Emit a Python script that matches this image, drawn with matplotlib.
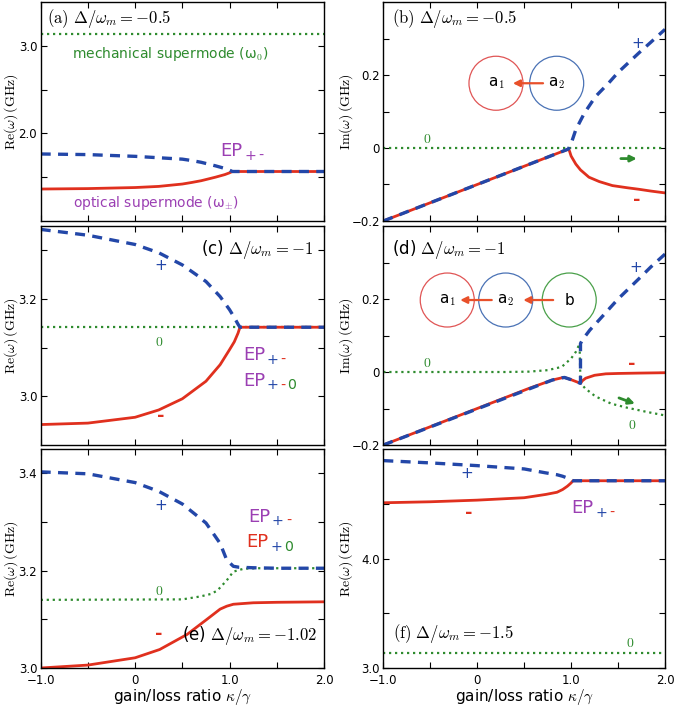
import numpy as np
import matplotlib
matplotlib.use("Agg")
import matplotlib.pyplot as plt
from matplotlib.patches import Ellipse

plt.rcParams["font.family"] = "DejaVu Sans"
plt.rcParams["mathtext.fontset"] = "cm"

BLUE = "#2347a8"
RED = "#e0301e"
GREEN = "#2e8b2e"
PURPLE = "#9b3fb3"
ORANGE = "#e8502a"

# ---- data (kappa/gamma, GHz) ----
# (a) Re, Delta/wm = -0.5
k_a = [-1.0, -0.5, 0.0, 0.25, 0.5, 0.6, 0.7, 0.85, 0.95, 1.0, 1.03, 2.0]
blue_a = [1.765, 1.758, 1.738, 1.722, 1.706, 1.69, 1.67, 1.63, 1.60, 1.58, 1.565, 1.565]
red_a = [1.365, 1.370, 1.382, 1.395, 1.422, 1.44, 1.46, 1.50, 1.53, 1.55, 1.565, 1.565]
green_a_k = [-1.0, 2.0]
green_a = [3.14, 3.14]

# (b) Im, Delta/wm = -0.5
k_b_blue = [-1.0, 0.9, 0.97, 1.0, 1.05, 1.14, 1.26, 1.4, 1.5, 1.72, 1.85, 2.0]
blue_b = [-0.2, -0.01, -0.003, 0.012, 0.05, 0.095, 0.141, 0.178, 0.207, 0.26, 0.29, 0.325]
k_b_red = [-1.0, 0.9, 0.975, 0.985, 1.0, 1.05, 1.1, 1.19, 1.3, 1.44, 1.6, 1.72, 1.85, 2.0]
red_b = [-0.2, -0.01, -0.003, -0.01, -0.022, -0.044, -0.06, -0.08, -0.092, -0.103, -0.109, -0.113, -0.118, -0.123]
green_b_k = [-1.0, 2.0]
green_b = [0.0, 0.0]

# (c) Re, Delta/wm = -1
k_c = [-1.0, -0.5, 0.0, 0.25, 0.5, 0.75, 0.9, 1.0, 1.05, 1.09, 1.11, 2.0]
blue_c = [3.343, 3.331, 3.312, 3.295, 3.27, 3.236, 3.205, 3.178, 3.162, 3.148, 3.142, 3.142]
red_c = [2.942, 2.945, 2.957, 2.972, 2.995, 3.031, 3.065, 3.096, 3.112, 3.13, 3.142, 3.142]
green_c_k = [-1.0, 2.0]
green_c = [3.142, 3.142]

# (d) Im, Delta/wm = -1
k_d_blue = [-1.0, 0.8, 0.9, 0.93, 1.0, 1.05, 1.1, 1.1, 1.12, 1.2, 1.3, 1.5, 1.72, 1.85, 2.0]
blue_d = [-0.2, -0.022, -0.016, -0.015, -0.021, -0.026, -0.031, 0.078, 0.088, 0.115, 0.143, 0.2, 0.255, 0.288, 0.323]
k_d_red = [-1.0, 0.55, 0.8, 0.9, 0.93, 1.0, 1.05, 1.1, 1.12, 1.155, 1.25, 1.37, 1.5, 1.72, 2.0]
red_d = [-0.2, -0.045, -0.022, -0.016, -0.015, -0.021, -0.026, -0.031, -0.024, -0.017, -0.009, -0.005, -0.004, -0.003, -0.002]
k_d_green = [-1.0, 0.3, 0.55, 0.75, 0.9, 1.0, 1.05, 1.09, 1.1, 1.15, 1.26, 1.43, 1.6, 1.8, 2.0]
green_d = [0.0, 0.0, 0.001, 0.005, 0.014, 0.037, 0.055, 0.077, -0.03, -0.045, -0.067, -0.087, -0.098, -0.109, -0.119]

# (e) Re, Delta/wm = -1.02
k_e_blue = [-1.0, -0.5, 0.0, 0.25, 0.5, 0.75, 0.9, 0.97, 1.04, 1.1, 1.25, 1.5, 2.0]
blue_e = [3.403, 3.399, 3.381, 3.363, 3.337, 3.298, 3.256, 3.222, 3.209, 3.207, 3.206, 3.205, 3.205]
k_e_green = [-1.0, 0.5, 0.69, 0.8, 0.87, 0.97, 1.04, 1.15, 1.3, 2.0]
green_e = [3.14, 3.141, 3.147, 3.152, 3.159, 3.18, 3.198, 3.204, 3.205, 3.205]
k_e_red = [-1.0, -0.5, 0.0, 0.26, 0.55, 0.76, 0.9, 0.97, 1.04, 1.25, 1.5, 2.0]
red_e = [3.0, 3.006, 3.021, 3.038, 3.069, 3.1, 3.121, 3.127, 3.131, 3.134, 3.135, 3.136]

# (f) Re, Delta/wm = -1.5
k_f = [-1.0, -0.5, 0.0, 0.5, 0.73, 0.85, 0.91, 0.96, 1.0, 1.02, 2.0]
blue_f = [4.894, 4.873, 4.848, 4.818, 4.782, 4.765, 4.751, 4.735, 4.718, 4.71, 4.71]
red_f = [4.509, 4.518, 4.533, 4.555, 4.585, 4.605, 4.63, 4.66, 4.69, 4.71, 4.71]
green_f_k = [-1.0, 2.0]
green_f = [3.14, 3.14]

# ticks
x_ticks = [-1.0, -0.5, 0.0, 0.5, 1.0, 1.5, 2.0]
x_tick_labels = ["\u22121.0", "", "0", "", "1.0", "", "2.0"]
yt_a, yl_a = [1.5, 2.0, 2.5, 3.0], ["", "2.0", "", "3.0"]
yt_im, yl_im = [-0.2, -0.1, 0.0, 0.1, 0.2, 0.3], ["\u22120.2", "", "0", "", "0.2", ""]
yt_c, yl_c = [3.0, 3.1, 3.2, 3.3], ["3.0", "", "3.2", ""]
yt_e, yl_e = [3.0, 3.1, 3.2, 3.3, 3.4], ["3.0", "", "3.2", "", "3.4"]
yt_f, yl_f = [3.0, 3.5, 4.0, 4.5], ["3.0", "", "4.0", ""]

W, H = 675, 707
fig = plt.figure(figsize=(W / 100, H / 100), dpi=100)


def make_ax(x0, x1, y0, y1):
    return fig.add_axes([x0 / W, 1 - y1 / H, (x1 - x0) / W, (y1 - y0) / H])


cols = [(40.7, 324.0), (383.3, 665.0)]
rows = [(2, 221), (226, 445), (449, 668)]
ax_a = make_ax(*cols[0], *rows[0])
ax_b = make_ax(*cols[1], *rows[0])
ax_c = make_ax(*cols[0], *rows[1])
ax_d = make_ax(*cols[1], *rows[1])
ax_e = make_ax(*cols[0], *rows[2])
ax_f = make_ax(*cols[1], *rows[2])


def curves(ax, kg, g, kr, r, kb, b):
    ax.plot(kg, g, color=GREEN, lw=1.6, ls=(0, (1, 1.7)))
    ax.plot(kr, r, color=RED, lw=2.0)
    ax.plot(kb, b, color=BLUE, lw=2.4, ls=(0, (3, 2.2)))


def style(ax, ylim, yt, yl, ylabel, bottom, left_col):
    ax.set_xlim(-1, 2)
    ax.set_ylim(*ylim)
    ax.set_xticks(x_ticks)
    ax.set_xticklabels(x_tick_labels)
    ax.set_yticks(yt)
    ax.set_yticklabels(yl)
    ax.tick_params(direction="in", top=True, right=True, length=4, width=0.8,
                   labelsize=8.5, labelbottom=bottom)
    ax.tick_params(axis="x", pad=4.5)
    ax.tick_params(axis="y", pad=2.5)
    for s in ax.spines.values():
        s.set_linewidth(1.0)
    ax.set_ylabel(ylabel, fontsize=10)
    ax.yaxis.set_label_coords(-0.074 if left_col else -0.1, 0.5)
    if bottom:
        ax.set_xlabel(r"gain/loss ratio $\kappa/\gamma$", fontsize=11)
        ax.xaxis.set_label_coords(0.5, -0.086)


RE = r"$\mathrm{Re}(\omega)\,(\mathrm{GHz})$"
IM = r"$\mathrm{Im}(\omega)\,(\mathrm{GHz})$"

curves(ax_a, green_a_k, green_a, k_a, red_a, k_a, blue_a)
curves(ax_b, green_b_k, green_b, k_b_red, red_b, k_b_blue, blue_b)
curves(ax_c, green_c_k, green_c, k_c, red_c, k_c, blue_c)
curves(ax_d, k_d_green, green_d, k_d_red, red_d, k_d_blue, blue_d)
curves(ax_e, k_e_green, green_e, k_e_red, red_e, k_e_blue, blue_e)
curves(ax_f, green_f_k, green_f, k_f, red_f, k_f, blue_f)

style(ax_a, (1.0, 3.5), yt_a, yl_a, RE, False, True)
style(ax_b, (-0.2, 0.4), yt_im, yl_im, IM, False, False)
style(ax_c, (2.9, 3.35), yt_c, yl_c, RE, False, True)
style(ax_d, (-0.2, 0.4), yt_im, yl_im, IM, False, False)
style(ax_e, (3.0, 3.45), yt_e, yl_e, RE, True, True)
style(ax_f, (3.0, 5.0), yt_f, yl_f, RE, True, False)

# panel labels
ax_a.text(0.021, 0.903, r"$(\mathrm{a})\ \Delta/\omega_m=-0.5$", transform=ax_a.transAxes, fontsize=12)
ax_b.text(0.03, 0.903, r"$(\mathrm{b})\ \Delta/\omega_m=-0.5$", transform=ax_b.transAxes, fontsize=12)
ax_c.text(0.962, 0.871, r"(c) $\Delta/\omega_m=-1$", transform=ax_c.transAxes, fontsize=12, ha="right")
ax_d.text(0.03, 0.871, r"(d) $\Delta/\omega_m=-1$", transform=ax_d.transAxes, fontsize=12)
ax_e.text(0.974, 0.128, r"(e) $\Delta/\omega_m=-1.02$", transform=ax_e.transAxes, fontsize=12, ha="right")
ax_f.text(0.0355, 0.136, r"$(\mathrm{f})\ \Delta/\omega_m=-1.5$", transform=ax_f.transAxes, fontsize=12)

# supermode annotations in (a)
ax_a.text(-0.672, 2.86, "mechanical supermode (\u03c9$_0$)", color=GREEN, fontsize=10)
ax_a.text(-0.655, 1.163, "optical supermode (\u03c9$_{\\pm}$)", color=PURPLE, fontsize=10)


def ep(ax, x, y, base_color, subs, fs=13):
    prev = ax.text(x, y, "EP", color=base_color, fontsize=fs, va="baseline")
    for i, (s, c) in enumerate(subs):
        prev = ax.annotate(s, xy=(1, 0), xycoords=prev,
                           xytext=(1, -2) if i == 0 else (1.5, 0),
                           textcoords="offset points", color=c,
                           fontsize=fs * 0.78, va="bottom", ha="left")


ep(ax_a, 0.906, 1.741, PURPLE, [("+", PURPLE), ("-", PURPLE)])
ep(ax_c, 1.14, 3.075, PURPLE, [("+", BLUE), ("-", RED)])
ep(ax_c, 1.14, 3.022, PURPLE, [("+", BLUE), ("-", RED), ("0", GREEN)])
ep(ax_e, 1.2, 3.301, PURPLE, [("+", BLUE), ("-", RED)])
ep(ax_e, 1.18, 3.248, RED, [("+", BLUE), ("0", GREEN)])
ep(ax_f, 1.006, 4.418, PURPLE, [("+", BLUE), ("-", RED)])


# branch markers
def mark(ax, x, y, kind):
    if kind == "+":
        ax.text(x, y, "+", color=BLUE, fontsize=11, ha="center", va="center")
    elif kind == "-":
        ax.text(x, y, "-", color=RED, fontsize=13, fontweight="bold", ha="center", va="center")
    else:
        ax.text(x, y, r"$0$", color=GREEN, fontsize=10, ha="center", va="center")


for ax, x, y, kind in [
    (ax_b, 1.71, 0.287, "+"), (ax_b, 1.70, -0.142, "-"), (ax_b, -0.53, 0.024, "0"),
    (ax_c, 0.275, 3.268, "+"), (ax_c, 0.25, 3.111, "0"), (ax_c, 0.275, 2.96, "-"),
    (ax_d, 1.684, 0.287, "+"), (ax_d, 1.648, 0.021, "-"), (ax_d, -0.53, 0.025, "0"),
    (ax_d, 1.648, -0.146, "0"),
    (ax_e, 0.275, 3.334, "+"), (ax_e, 0.25, 3.159, "0"), (ax_e, 0.255, 3.07, "-"),
    (ax_f, -0.106, 4.78, "+"), (ax_f, -0.09, 4.42, "-"), (ax_f, 1.63, 3.23, "0"),
]:
    mark(ax, x, y, kind)

# green arrows
ax_b.annotate("", xy=(1.70, -0.029), xytext=(1.53, -0.029),
              arrowprops=dict(arrowstyle="-|>", color=GREEN, lw=2, mutation_scale=9,
                              shrinkA=0, shrinkB=0))
ax_d.annotate("", xy=(1.68, -0.087), xytext=(1.51, -0.071),
              arrowprops=dict(arrowstyle="-|>", color=GREEN, lw=2, mutation_scale=9,
                              shrinkA=0, shrinkB=0))


# resonator sketches
def ring(ax, cx, cy, color, label):
    bb = ax.get_position()
    w = 54 / (bb.width * W)
    h = 54 / (bb.height * H)
    ax.add_patch(Ellipse((cx, cy), w, h, transform=ax.transAxes, fill=False,
                         ec=color, lw=0.9))
    ax.text(cx, cy, label, transform=ax.transAxes, fontsize=11, ha="center", va="center")


def push(ax, x0, x1, y):
    ax.annotate("", xy=(x1, y), xytext=(x0, y), xycoords="axes fraction",
                arrowprops=dict(arrowstyle="-|>", color=ORANGE, lw=1.6,
                                mutation_scale=10, shrinkA=0, shrinkB=0))


ring(ax_b, 0.400, 0.629, "#e05555", "a$_1$")
ring(ax_b, 0.6155, 0.629, "#4a72b5", "a$_2$")
push(ax_b, 0.567, 0.46, 0.629)

ring(ax_d, 0.227, 0.662, "#e05555", "a$_1$")
ring(ax_d, 0.4345, 0.662, "#4a72b5", "a$_2$")
ring(ax_d, 0.660, 0.662, "#4aa04a", "b")
push(ax_d, 0.385, 0.273, 0.662)
push(ax_d, 0.603, 0.497, 0.662)

fig.savefig("out.png", dpi=100)
